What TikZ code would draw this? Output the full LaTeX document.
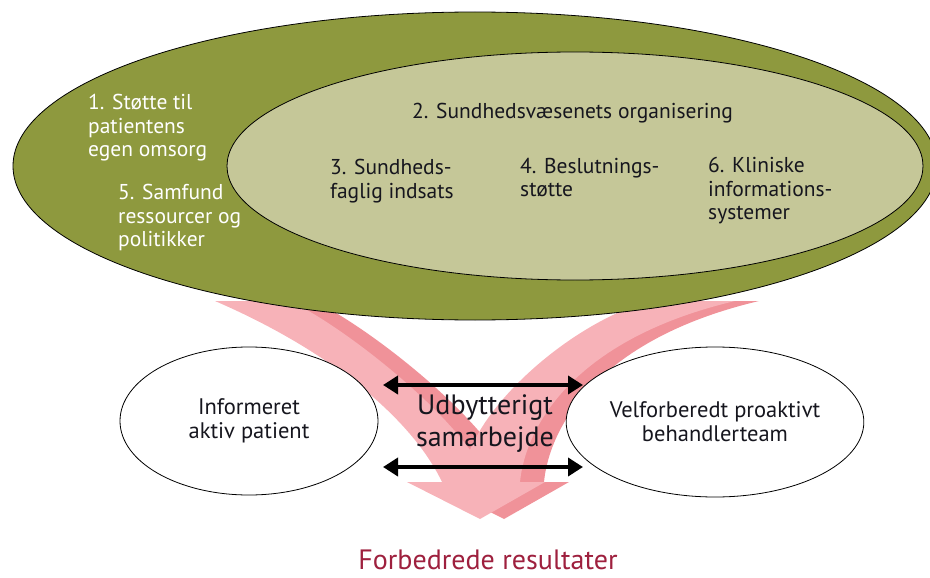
\documentclass[tikz,border=0pt]{standalone}
\usepackage{fontspec}
\setmainfont{PT Sans}
\usetikzlibrary{shapes.geometric,arrows.meta}
\definecolor{oliveD}{RGB}{142,153,62}
\definecolor{oliveL}{RGB}{197,199,152}
\definecolor{pinkL}{RGB}{247,178,184}
\definecolor{pinkD}{RGB}{240,146,153}
\definecolor{txtD}{RGB}{22,22,30}
\definecolor{resRed}{RGB}{158,32,62}
\begin{document}
\begin{tikzpicture}[x=1pt,y=-1pt,
  vpath/.style={insert path={(215,301) .. controls (340,355) and (415,425) .. (442,482)
     -- (407,482) -- (480,519) -- (545,482) -- (520,482)
     .. controls (525,430) and (570,340) .. (735,301) -- (650,301)
     .. controls (580,320) and (495,390) .. (470,450)
     .. controls (430,395) and (340,325) .. (290,301) -- cycle}},
  oval/.style={ellipse, draw=black, line width=0.8pt, inner sep=0pt},
  wtxt/.style={font=\fontsize{21.5}{23.5}\selectfont, text=white, inner sep=0pt, align=left, anchor=north west},
  btxt/.style={font=\fontsize{21.5}{23.5}\selectfont, text=txtD, inner sep=0pt, align=left, anchor=north west},
  etxt/.style={font=\fontsize{22.5}{24}\selectfont, text=txtD, align=center},
  dblarrow/.style={line width=4.5pt, {Triangle[length=15pt,width=18pt]}-{Triangle[length=15pt,width=18pt]}}
]
\useasboundingbox (0,0) rectangle (930,578);
\clip (0,0) rectangle (930,578);

% pink V arrow (back face, then front face)
\fill[pinkD, xshift=24pt, vpath];
\fill[pinkL, vpath];

% big ellipses
\node[oval, fill=oliveD, minimum width=924pt, minimum height=308pt] (outer) at (475,166) {};
\node[oval, fill=oliveL, minimum width=696pt, minimum height=228pt] (inner) at (575,166) {};

% bottom ellipses
\node[oval, fill=white, minimum width=258pt, minimum height=148pt, etxt] (pat) at (249,421) {Informeret\\aktiv patient};
\node[oval, fill=white, minimum width=260pt, minimum height=150pt, etxt] (team) at (715,422) {Velforberedt proaktivt\\behandlerteam};

% double arrows
\coordinate (a1) at (383,385);
\coordinate (b1) at (583,385);
\coordinate (a2) at (383,467);
\coordinate (b2) at (583,467);
\draw[dblarrow] (a1) -- (b1);
\draw[dblarrow] (a2) -- (b2);

% texts
\node[wtxt] (t1) at (88,94) {1. Støtte til\\patientens\\egen omsorg};
\node[wtxt] (t5) at (118,184) {5. Samfund\\ressourcer og\\politikker};
\node[btxt] (t2) at (412,103) {2. Sundhedsvæsenets organisering};
\node[btxt] (t3) at (330,159) {3. Sundheds-\\faglig indsats};
\node[btxt] (t4) at (520,158) {4. Beslutnings-\\støtte};
\node[btxt] (t6) at (708,157) {6. Kliniske\\informations-\\systemer};

\node[font=\fontsize{28}{32}\selectfont, text=txtD, align=center, inner sep=0pt] (mid) at (485,424) {Udbytterigt\\samarbejde};
\node[font=\fontsize{28}{32}\selectfont, text=resRed, inner sep=0pt, anchor=base] (res) at (488,569) {Forbedrede resultater};
\end{tikzpicture}
\end{document}
